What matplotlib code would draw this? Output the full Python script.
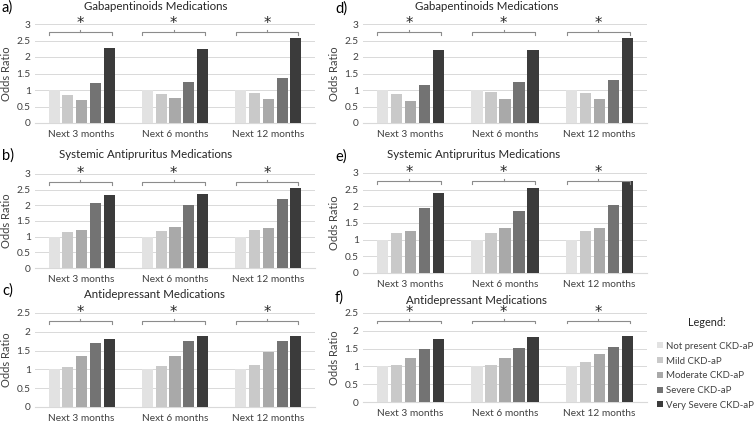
import numpy as np
import matplotlib
matplotlib.use("Agg")
import matplotlib.pyplot as plt
import matplotlib.transforms as mtransforms

plt.rcParams['font.family'] = ['Lato', 'DejaVu Sans']

periods = ['Next 3 months', 'Next 6 months', 'Next 12 months']
severity = ['Not present CKD-aP', 'Mild CKD-aP', 'Moderate CKD-aP',
            'Severe CKD-aP', 'Very Severe CKD-aP']
colors = ['#e2e2e2', '#c9c9c9', '#a9a9a9', '#737373', '#3b3b3b']

# odds ratios, rows = periods, cols = severity
gaba_left = [[1.0, 0.84, 0.71, 1.20, 2.28],
             [1.0, 0.88, 0.75, 1.24, 2.25],
             [1.0, 0.90, 0.74, 1.36, 2.57]]
anti_prur_left = [[1.0, 1.16, 1.21, 2.09, 2.33],
                  [1.0, 1.18, 1.30, 2.00, 2.37],
                  [1.0, 1.22, 1.28, 2.21, 2.55]]
antidep_left = [[1.0, 1.07, 1.35, 1.69, 1.82],
                [1.0, 1.08, 1.35, 1.76, 1.90],
                [1.0, 1.11, 1.46, 1.75, 1.88]]
gaba_right = [[1.0, 0.89, 0.68, 1.15, 2.20],
              [1.0, 0.93, 0.72, 1.24, 2.21],
              [1.0, 0.91, 0.72, 1.31, 2.58]]
anti_prur_right = [[1.0, 1.21, 1.25, 1.96, 2.40],
                   [1.0, 1.21, 1.36, 1.87, 2.55],
                   [1.0, 1.25, 1.34, 2.05, 2.76]]
antidep_right = [[1.0, 1.04, 1.25, 1.49, 1.77],
                 [1.0, 1.04, 1.23, 1.53, 1.82],
                 [1.0, 1.11, 1.34, 1.55, 1.84]]

W, H = 755, 424
fig = plt.figure(figsize=(W / 100, H / 100), dpi=100)

# (data, title, label, ymax, axes box px [left, right, top, bottom], title pos px, label pos px)
panels = [
    (gaba_left, 'Gabapentinoids Medications', 'a)', 3, (35, 315, 24, 123), (156, 7), (2, 8)),
    (anti_prur_left, 'Systemic Antipruritus Medications', 'b)', 3, (35, 315, 174, 268), (146, 155), (2, 156)),
    (antidep_left, 'Antidepressant Medications', 'c)', 2.5, (35, 315, 313, 407), (155, 294), (2, 291)),
    (gaba_right, 'Gabapentinoids Medications', 'd)', 3, (363, 647, 24, 123), (487, 7), (335, 9)),
    (anti_prur_right, 'Systemic Antipruritus Medications', 'e)', 3, (363, 647, 173, 273), (474, 155), (335, 157)),
    (antidep_right, 'Antidepressant Medications', 'f)', 2.5, (363, 647, 313, 402), (477, 300), (335, 298)),
]

slot = 0.148
bw = 0.118
x = np.arange(len(periods))
handles = None

for data, title, lab, ymax, box, tpos, lpos in panels:
    l, r, t, b = box
    ax = fig.add_axes([l / W, 1 - b / H, (r - l) / W, (b - t) / H])
    vals = np.array(data)
    bars = []
    for j in range(len(severity)):
        bars.append(ax.bar(x + (j - 2) * slot, vals[:, j], bw, color=colors[j],
                           label=severity[j], zorder=3))
    handles = bars
    ax.set_xlim(-0.5, 2.5)
    ax.set_ylim(0, ymax)
    ax.set_yticks(np.arange(0, ymax + 0.01, 0.5))
    ax.set_yticklabels(['%g' % v for v in np.arange(0, ymax + 0.01, 0.5)])
    ax.grid(axis='y', color='#d9d9d9', lw=0.7, zorder=0)
    for s in ['top', 'right', 'left']:
        ax.spines[s].set_visible(False)
    ax.spines['bottom'].set_color('#d9d9d9')
    ax.tick_params(length=0, labelsize=7.3, colors='#404040', pad=3)
    ax.tick_params(axis='x', pad=5)
    ax.set_xticks(x)
    ax.set_xticklabels(periods)
    ax.set_ylabel('Odds Ratio', fontsize=8, color='#404040', labelpad=3)

    # significance brackets
    trans = mtransforms.blended_transform_factory(ax.transData, ax.transAxes)
    yb = 0.915
    for xi in x:
        x0, x1 = xi - 0.35, xi + 0.32
        ax.plot([x0, x0, x1, x1], [yb - 0.03, yb, yb, yb - 0.03], transform=trans,
                color='#8c8c8c', lw=0.8, clip_on=False, zorder=4)
        xm = (x0 + x1) / 2
        ax.plot([xm, xm], [yb, yb + 0.02], transform=trans, color='#8c8c8c',
                lw=0.8, clip_on=False, zorder=4)
        ax.text(xm, 0.955, '*', transform=trans, ha='center', va='baseline',
                fontsize=10.5, family='DejaVu Sans', color='#262626', clip_on=False)

    fig.text(tpos[0] / W, 1 - tpos[1] / H, title, ha='center', va='center',
             fontsize=8.3, color='#262626')
    fig.text(lpos[0] / W, 1 - lpos[1] / H, lab, ha='left', va='center',
             fontsize=10.5, color='#000000')

fig.text(707 / W, 1 - 323 / H, 'Legend:', ha='center', va='center',
         fontsize=7.8, color='#262626')
leg = fig.legend(handles, severity, loc='upper left',
                 bbox_to_anchor=(652 / W, 1 - 337 / H), frameon=False,
                 handlelength=0.6, handleheight=0.6, handletextpad=0.35,
                 labelspacing=0.6, fontsize=6.9, borderpad=0)
for txt in leg.get_texts():
    txt.set_color('#404040')

fig.savefig('out.png', dpi=100)
